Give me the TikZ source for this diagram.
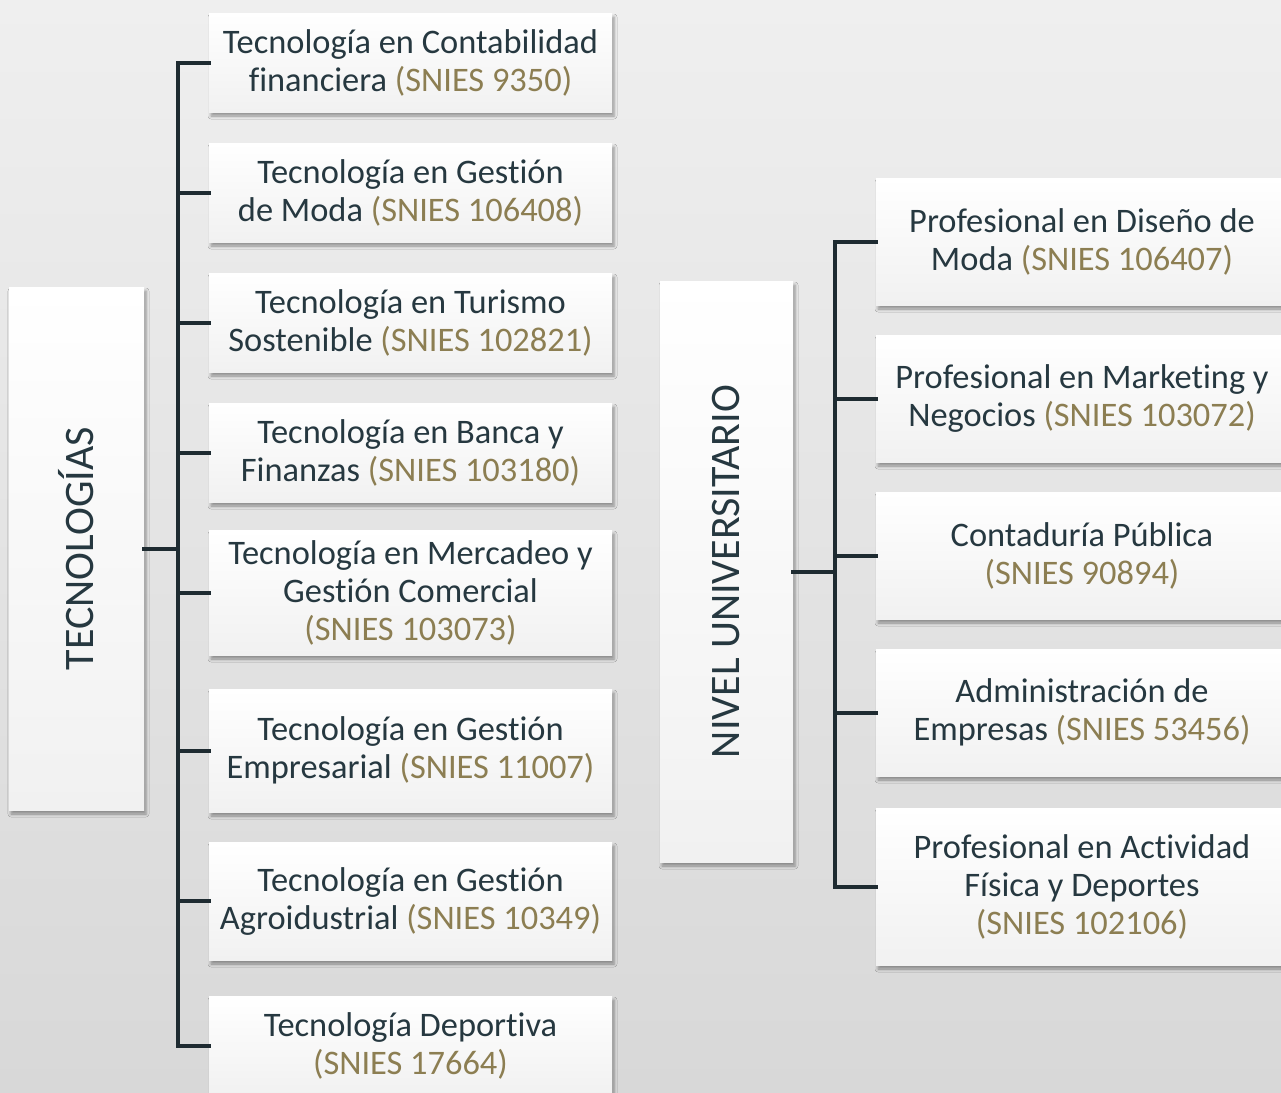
\documentclass[tikz,border=0pt]{standalone}
\usepackage{fontspec}
\setmainfont{Carlito}[Ligatures=NoCommon]
\usetikzlibrary{shadows.blur}
\definecolor{txt}{HTML}{263840}
\definecolor{snies}{HTML}{8C7E52}
\definecolor{ln}{HTML}{1E2B31}
\definecolor{bgtop}{HTML}{EFEFEF}
\definecolor{bgbot}{HTML}{D8D8D8}
\definecolor{boxbot}{HTML}{F1F1F1}
\newcommand\sn[1]{\textcolor{snies}{#1}}
\tikzset{
  box/.style={rectangle, inner sep=0pt, top color=white, bottom color=boxbot, draw=none,
    blur shadow={shadow xshift=2pt, shadow yshift=-4pt, shadow blur radius=3pt, shadow opacity=38},
    text=txt, align=center, font=\fontsize{34.4}{38}\selectfont},
  lbox/.style={box, minimum width=403pt},
  rbox/.style={box, minimum width=412pt},
  bigtext/.style={rotate=90, text=txt, font=\fontsize{42}{46}\selectfont},
  conn/.style={draw=ln, line width=4pt, line join=miter, line cap=rect}
}
\begin{document}
\begin{tikzpicture}[x=1pt, y=-1pt]
\useasboundingbox (0,0) rectangle (1281,1092);
\clip (0,0) rectangle (1281,1092);
\shade[top color=bgtop, bottom color=bgbot] (0,0) rectangle (1281,1092);

% coordinates of spines
\coordinate (ls) at (178,548.5);
\coordinate (rs) at (835,571.5);

% main boxes
\node[box, minimum width=135pt, minimum height=523pt,
  label={[bigtext]center:TECNOLOGÍAS}] (tec) at (76.5,548.5) {};
\node[box, minimum width=133pt, minimum height=581pt,
  label={[bigtext]center:NIVEL UNIVERSITARIO}] (niv) at (726.5,571.5) {};

% left boxes
\node[lbox, minimum height=99pt] (l1) at (410.5,62.5) {Tecnología en Contabilidad\\financiera \sn{(SNIES 9350)}};
\node[lbox, minimum height=99pt] (l2) at (410.5,192.5) {Tecnología en Gestión\\de Moda \sn{(SNIES 106408)}};
\node[lbox, minimum height=99pt] (l3) at (410.5,322.5) {Tecnología en Turismo\\Sostenible \sn{(SNIES 102821)}};
\node[lbox, minimum height=99pt] (l4) at (410.5,452.5) {Tecnología en Banca y\\Finanzas \sn{(SNIES 103180)}};
\node[lbox, minimum height=125pt] (l5) at (410.5,592.5) {Tecnología en Mercadeo y\\Gestión Comercial\\\sn{(SNIES 103073)}};
\node[lbox, minimum height=123pt] (l6) at (410.5,750.5) {Tecnología en Gestión\\Empresarial \sn{(SNIES 11007)}};
\node[lbox, minimum height=118pt] (l7) at (410.5,901) {Tecnología en Gestión\\Agroidustrial \sn{(SNIES 10349)}};
\node[lbox, minimum height=99pt] (l8) at (410.5,1045.5) {Tecnología Deportiva\\\sn{(SNIES 17664)}};

% right boxes
\node[rbox, minimum height=127pt] (r1) at (1082,241.5) {Profesional en Diseño de\\Moda \sn{(SNIES 106407)}};
\node[rbox, minimum height=127pt] (r2) at (1082,398.5) {Profesional en Marketing y\\Negocios \sn{(SNIES 103072)}};
\node[rbox, minimum height=127pt] (r3) at (1082,555.5) {Contaduría Pública\\\sn{(SNIES 90894)}};
\node[rbox, minimum height=127pt] (r4) at (1082,712.5) {Administración de\\Empresas \sn{(SNIES 53456)}};
\node[rbox, minimum height=157pt] (r5) at (1082,886.5) {Profesional en Actividad\\Física y Deportes\\\sn{(SNIES 102106)}};

% connectors
\draw[conn] (tec.east) -- (ls);
\foreach \n in {l1,l2,l3,l4,l5,l6,l7,l8}{
  \draw[conn] (ls) |- (\n.west);
}
\draw[conn] (niv.east) -- (rs);
\foreach \n in {r1,r2,r3,r4,r5}{
  \draw[conn] (rs) |- (\n.west);
}
\end{tikzpicture}
\end{document}
